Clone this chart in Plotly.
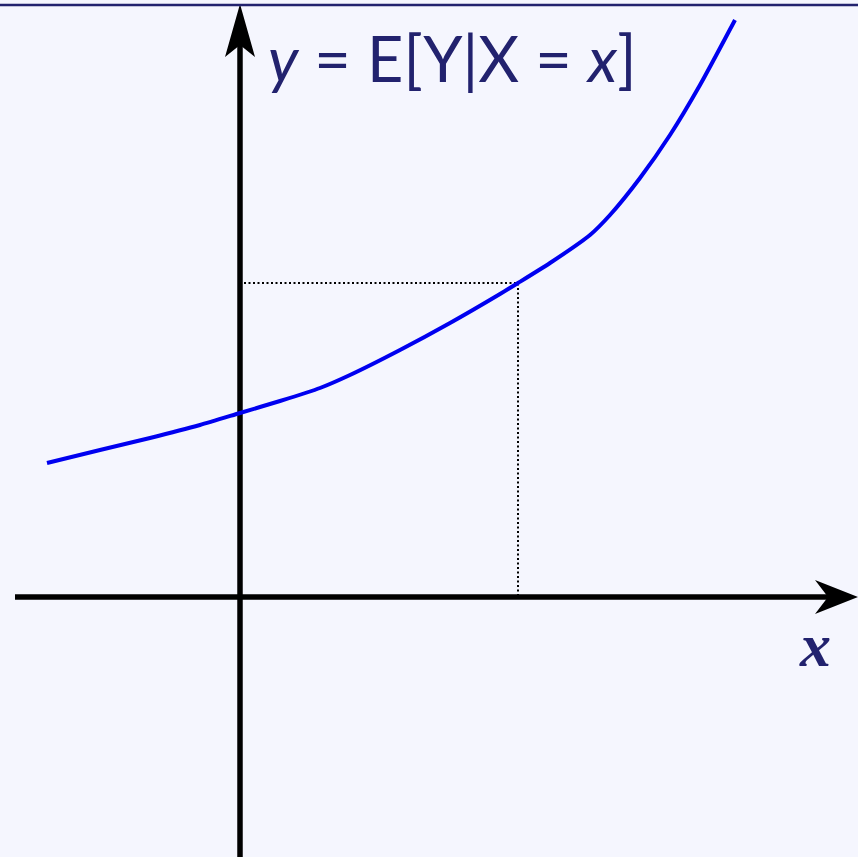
import plotly.graph_objects as go

# Curve y = E[Y|X=x] (coordinates relative to origin)
curve_x = [-193, -140, -90, -40, 0, 40, 80, 110, 160, 210, 260, 278, 310, 350, 370, 400, 430, 460, 495]
curve_y = [134, 147, 159, 172, 184, 196, 209, 222, 247, 274, 303, 314, 334, 362, 382, 419, 462, 512, 577]
# highlighted point
px, py = 278, 314
# axis extents
x_axis = [-225, 600]
y_axis = [-262, 570]

BG = "#f5f6fe"
NAVY = "#22226e"

fig = go.Figure()
# axes
fig.add_trace(go.Scatter(x=x_axis, y=[0, 0], mode="lines", line=dict(color="black", width=5.5), hoverinfo="skip"))
fig.add_trace(go.Scatter(x=[0, 0], y=y_axis, mode="lines", line=dict(color="black", width=5.5), hoverinfo="skip"))
# dotted guide lines
fig.add_trace(go.Scatter(x=[4, px, px], y=[py, py, 0], mode="lines",
                         line=dict(color="black", width=2, dash="2px,2.5px"), hoverinfo="skip"))
# curve
fig.add_trace(go.Scatter(x=curve_x, y=curve_y, mode="lines",
                         line=dict(color="#0000f0", width=4, shape="spline", smoothing=0.6),
                         hoverinfo="skip"))

shapes = [
    dict(type="path", xref="x", yref="y", path="M 618 0 L 575 17 L 588 0 L 575 -17 Z",
         fillcolor="black", line=dict(width=0)),
    dict(type="path", xref="x", yref="y", path="M 0 593 L -15 540 L 0 552 L 15 540 Z",
         fillcolor="black", line=dict(width=0)),
    dict(type="line", xref="paper", yref="paper", x0=0, x1=1, y0=1 - 5 / 857, y1=1 - 5 / 857,
         line=dict(color=NAVY, width=2.5)),
]

annotations = [
    dict(x=26, y=540, xref="x", yref="y", xanchor="left", yanchor="middle", showarrow=False,
         text="<i>y</i>&nbsp;=&nbsp;E[Y|X&nbsp;=&nbsp;<i>x</i>]",
         font=dict(family="Lato", size=63, color=NAVY)),
    dict(x=575, y=-48, xref="x", yref="y", xanchor="center", yanchor="middle", showarrow=False,
         text="<b><i>x</i></b>", font=dict(family="Liberation Serif", size=62, color=NAVY)),
]

fig.update_layout(
    width=858, height=857, autosize=False,
    margin=dict(l=0, r=0, t=0, b=0),
    paper_bgcolor=BG, plot_bgcolor=BG,
    showlegend=False,
    xaxis=dict(range=[-240, 618], visible=False, fixedrange=True),
    yaxis=dict(range=[-260, 597], visible=False, fixedrange=True),
    shapes=shapes, annotations=annotations,
)
fig.write_html("out.html", config={"displayModeBar": False},
               post_script="document.body.style.margin='0';document.body.style.background='%s';" % BG)
